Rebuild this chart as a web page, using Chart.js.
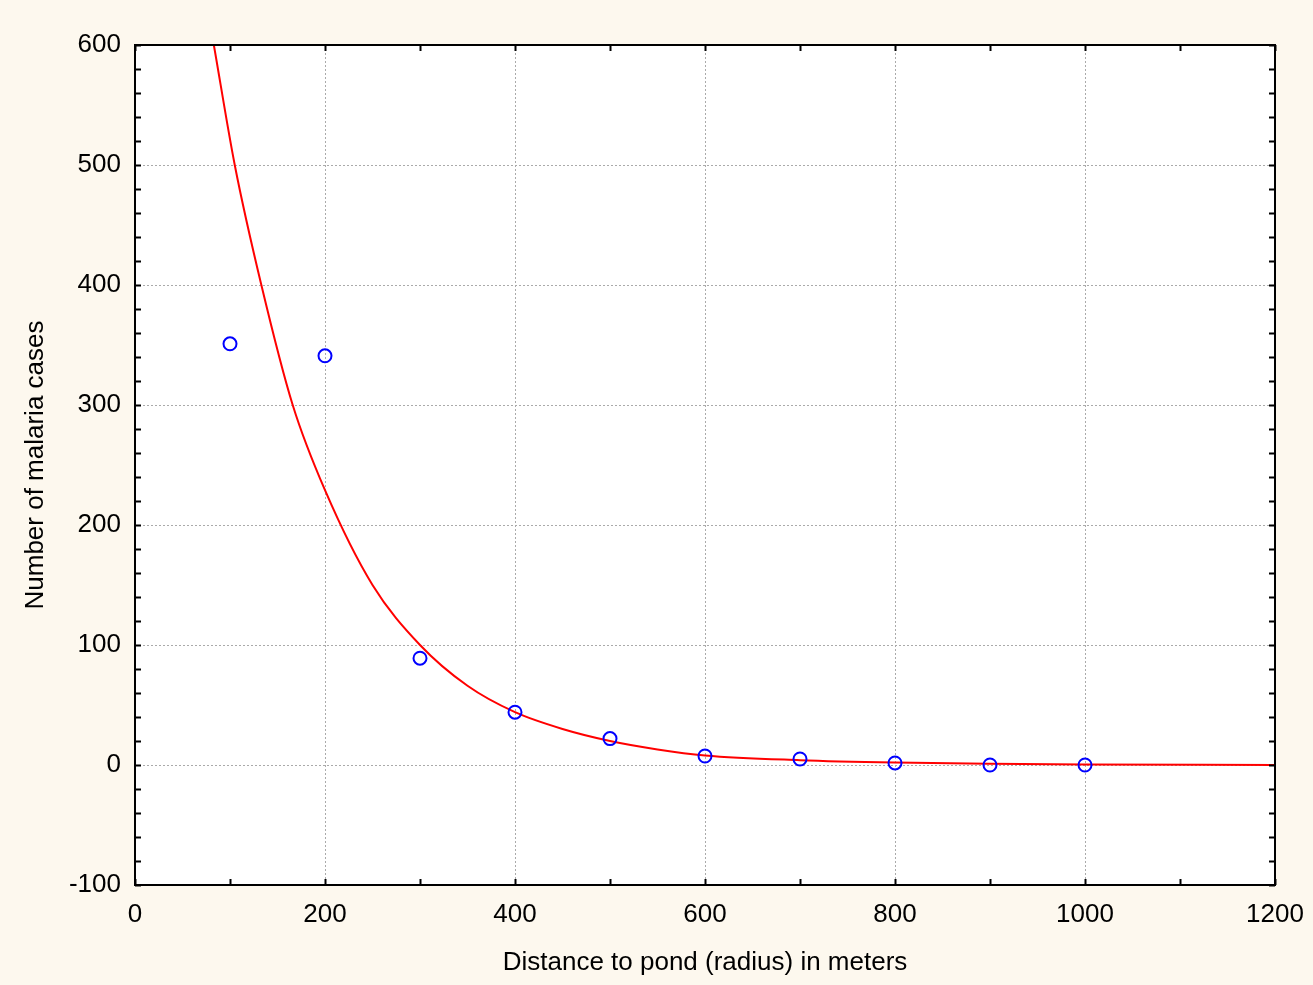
<!DOCTYPE html>
<html>
<head>
<meta charset="utf-8">
<script src="https://cdn.jsdelivr.net/npm/chart.js@4/dist/chart.umd.min.js"></script>
<style>
    html, body { margin: 0; padding: 0; background: #fdf8ee; }
    #wrap { width: 1313px; height: 985px; }
</style>
</head>
<body>
<div id="wrap"><canvas id="chart"></canvas></div>
<script>
// observed cases per distance band
const distances = [100, 200, 300, 400, 500, 600, 700, 800, 900, 1000];
const cases = [351, 341, 89, 44, 22, 7.5, 5, 1.7, 0, 0];

// fitted curve
const fitX = [83, 105, 133, 166, 200, 250, 300, 350, 400, 450, 500, 550, 600, 700, 800, 900, 1000, 1200];
const fitY = [600, 500, 400, 300, 229, 150, 100, 66, 44, 30, 20, 13, 8, 4, 2, 1, 0.5, 0];

const xTicks = [0, 200, 400, 600, 800, 1000, 1200];
const yTicks = [-100, 0, 100, 200, 300, 400, 500, 600];

const fontFamily = '"Liberation Sans", Arial, sans-serif';

const frame = {
    id: 'frame',
    beforeDraw(chart) {
        const { ctx, chartArea: a } = chart;
        ctx.save();
        ctx.fillStyle = '#fff';
        ctx.fillRect(a.left, a.top, a.right - a.left, a.bottom - a.top);
        ctx.restore();
    },
    afterDraw(chart) {
        const { ctx, chartArea: a, scales: { x, y } } = chart;
        ctx.save();
        ctx.strokeStyle = '#000';
        ctx.lineWidth = 2;
        // inward ticks on all four sides
        ctx.beginPath();
        for (let v = -100; v <= 600; v += 20) {
            const py = Math.round(y.getPixelForValue(v)) + 0.5;
            ctx.moveTo(a.left, py); ctx.lineTo(a.left + 6, py);
            ctx.moveTo(a.right, py); ctx.lineTo(a.right - 6, py);
        }
        for (let v = 0; v <= 1200; v += 100) {
            const px = Math.round(x.getPixelForValue(v)) + 0.5;
            ctx.moveTo(px, a.bottom); ctx.lineTo(px, a.bottom - 6);
            ctx.moveTo(px, a.top); ctx.lineTo(px, a.top + 6);
        }
        ctx.stroke();
        ctx.strokeRect(a.left, a.top, a.right - a.left, a.bottom - a.top);
        ctx.restore();
    },
};

new Chart(document.getElementById('chart'), {
    type: 'scatter',
    data: {
        datasets: [
            {
                data: distances.map((d, i) => ({ x: d, y: cases[i] })),
                pointStyle: 'circle',
                pointRadius: 6.5,
                pointBorderWidth: 2,
                pointBorderColor: '#0000ff',
                pointBackgroundColor: 'rgba(0,0,0,0)',
                showLine: false,
                order: 1,
            },
            {
                data: fitX.map((d, i) => ({ x: d, y: fitY[i] })),
                showLine: true,
                borderColor: '#ff0000',
                borderWidth: 2,
                pointRadius: 0,
                cubicInterpolationMode: 'monotone',
                order: 2,
            },
        ],
    },
    options: {
        responsive: true,
        maintainAspectRatio: false,
        animation: false,
        layout: { padding: { top: 45, right: 38, left: 0, bottom: 0 } },
        plugins: { legend: { display: false }, tooltip: { enabled: false } },
        scales: {
            x: {
                type: 'linear',
                min: 0,
                max: 1200,
                afterBuildTicks: (s) => { s.ticks = xTicks.map((v) => ({ value: v })); },
                afterFit: (s) => {
                    s.height = 100;
                    s.paddingLeft = 0;
                    s.paddingRight = 0;
                },
                ticks: {
                    color: '#000',
                    font: { family: fontFamily, size: 26 },
                    padding: 14,
                    maxRotation: 0,
                    callback: (v) => String(v),
                },
                grid: { color: '#aaa', drawTicks: false, lineWidth: 1 },
                border: { display: false, dash: [2, 2] },
                title: {
                    display: true,
                    text: 'Distance to pond (radius) in meters',
                    color: '#000',
                    font: { family: fontFamily, size: 26 },
                    padding: { top: 0, bottom: 7 },
                },
            },
            y: {
                type: 'linear',
                min: -100,
                max: 600,
                afterBuildTicks: (s) => { s.ticks = yTicks.map((v) => ({ value: v })); },
                afterFit: (s) => {
                    s.width = 135;
                    s.paddingTop = 0;
                    s.paddingBottom = 0;
                },
                ticks: {
                    color: '#000',
                    font: { family: fontFamily, size: 26 },
                    padding: 14,
                    callback: (v) => String(v),
                },
                grid: { color: '#aaa', drawTicks: false, lineWidth: 1 },
                border: { display: false, dash: [2, 2] },
                title: {
                    display: true,
                    text: 'Number of malaria cases',
                    color: '#000',
                    font: { family: fontFamily, size: 26 },
                    padding: { top: 20, bottom: 0 },
                },
            },
        },
    },
    plugins: [frame],
});
</script>
</body>
</html>
